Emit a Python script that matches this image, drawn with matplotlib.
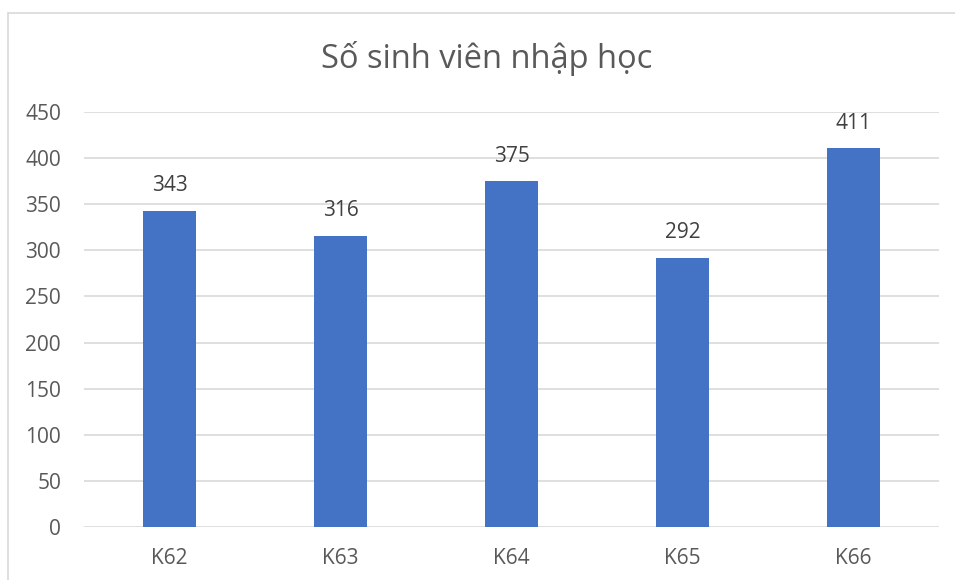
import matplotlib.pyplot as plt
from matplotlib.patches import Rectangle

plt.rcParams['font.family'] = ['Open Sans', 'DejaVu Sans']

khoa = ['K62', 'K63', 'K64', 'K65', 'K66']
so_sv = [343, 316, 375, 292, 411]
y_ticks = [0, 50, 100, 150, 200, 250, 300, 350, 400, 450]

W, H = 955, 580
fig = plt.figure(figsize=(W / 100, H / 100), dpi=100)
ax = fig.add_axes([84 / W, 1 - 527 / H, (939 - 84) / W, (527 - 112) / H])

# khung vien bieu do
fig.patches.append(Rectangle((7.5 / W, -0.1), 1.2, 1 - 13.5 / H + 0.1,
                             transform=fig.transFigure, fill=False,
                             edgecolor='#d9d9d9', linewidth=1.2))

x = range(len(khoa))
bars = ax.bar(x, so_sv, width=0.31, color='#4472c4', zorder=3)
for b, v in zip(bars, so_sv):
    ax.text(b.get_x() + b.get_width() / 2, v + 27, str(v), ha='center', va='center',
            fontsize=15, color='#404040')

ax.set_xlim(-0.5, len(khoa) - 0.5)
ax.set_ylim(0, 450)
ax.set_yticks(y_ticks)
ax.set_xticks(list(x))
ax.set_xticklabels(khoa)
ax.grid(axis='y', color='#d9d9d9', linewidth=1.2, zorder=0)
for s in ax.spines.values():
    s.set_visible(False)
ax.tick_params(axis='both', length=0, labelsize=15, colors='#595959')
ax.tick_params(axis='y', pad=16.5)
ax.tick_params(axis='x', pad=15)

fig.text(487 / W, 1 - 58 / H, 'Số sinh viên nhập học', ha='center', va='center',
         fontsize=23.5, color='#595959')

fig.savefig('out.png', dpi=100)
